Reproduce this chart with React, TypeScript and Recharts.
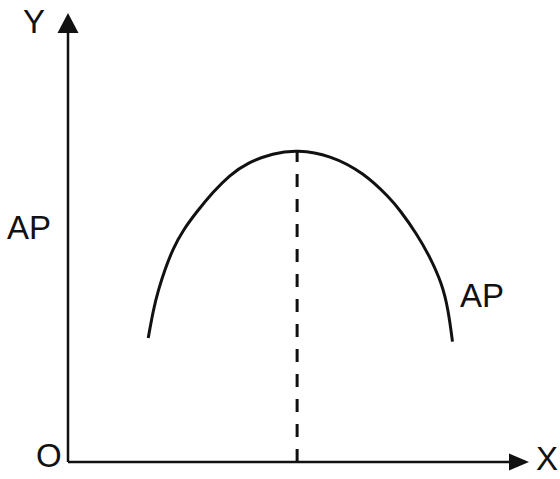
import { LineChart, Line, XAxis, YAxis, ReferenceLine, ReferenceDot } from "recharts";

// output on the x axis (0..100 across the plot)
const quantity = [17.4, 18.5, 19.6, 21.0, 22.8, 25.0, 27.9, 31.5, 35.1, 38.8, 44.5, 49.7, 56.8, 64.2, 69.8, 72.0, 75.6, 78.5, 81.1, 82.5, 83.4];
// average product at each point (0..100 up the plot)
const averageProduct = [27.6, 33.9, 38.3, 42.8, 47.6, 51.7, 55.7, 60.2, 63.9, 66.6, 68.8, 69.5, 68.4, 64.4, 58.8, 56.1, 50.9, 45.7, 39.8, 33.9, 26.8];

const peakQuantity = 49.7;
const peakAP = 69.5;

const data = quantity.map((q, i) => ({ q, ap: averageProduct[i] }));

const INK = "#111";
const FONT = "'Liberation Sans', Arial, sans-serif";

function UpArrow(props: any) {
  const { cx, cy } = props;
  return <polygon points={`${cx},${cy} ${cx - 10.5},${cy + 20} ${cx + 10.5},${cy + 20}`} fill={INK} />;
}

function RightArrow(props: any) {
  const { cx, cy } = props;
  return <polygon points={`${cx},${cy} ${cx - 20},${cy - 8.5} ${cx - 20},${cy + 8.5}`} fill={INK} />;
}

export default function App() {
  return (
    <div style={{ position: "absolute", left: 0, top: 0, width: 560, height: 479, background: "#fff" }}>
      <LineChart width={560} height={479} data={data} margin={{ top: 13, right: 31, bottom: 17, left: 68 }}>
        <XAxis dataKey="q" type="number" domain={[0, 100]} hide />
        <YAxis type="number" domain={[0, 100]} hide />

        {/* axes */}
        <ReferenceLine segment={[{ x: 0, y: 0 }, { x: 0, y: 97 }]} stroke={INK} strokeWidth={2.5} ifOverflow="visible" />
        <ReferenceLine segment={[{ x: 0, y: 0 }, { x: 97, y: 0 }]} stroke={INK} strokeWidth={2.5} ifOverflow="visible" />
        <ReferenceDot x={0} y={100} r={0} shape={UpArrow} ifOverflow="visible" />
        <ReferenceDot x={100} y={0} r={0} shape={RightArrow} ifOverflow="visible" />

        <ReferenceLine
          segment={[{ x: peakQuantity, y: 0 }, { x: peakQuantity, y: peakAP }]}
          stroke={INK}
          strokeWidth={3}
          strokeDasharray="13 12"
          ifOverflow="visible"
        />

        <Line
          dataKey="ap"
          type="basis"
          stroke={INK}
          strokeWidth={3}
          dot={false}
          activeDot={false}
          isAnimationActive={false}
        />

        <text x={23} y={33} fontSize={33} fontFamily={FONT} fill={INK}>Y</text>
        <text x={7} y={239} fontSize={33} fontFamily={FONT} fill={INK}>AP</text>
        <text x={460} y={307} fontSize={33} fontFamily={FONT} fill={INK}>AP</text>
        <text x={36} y={467} fontSize={33} fontFamily={FONT} fill={INK}>O</text>
        <text x={536} y={470} fontSize={33} fontFamily={FONT} fill={INK}>X</text>
      </LineChart>
    </div>
  );
}
